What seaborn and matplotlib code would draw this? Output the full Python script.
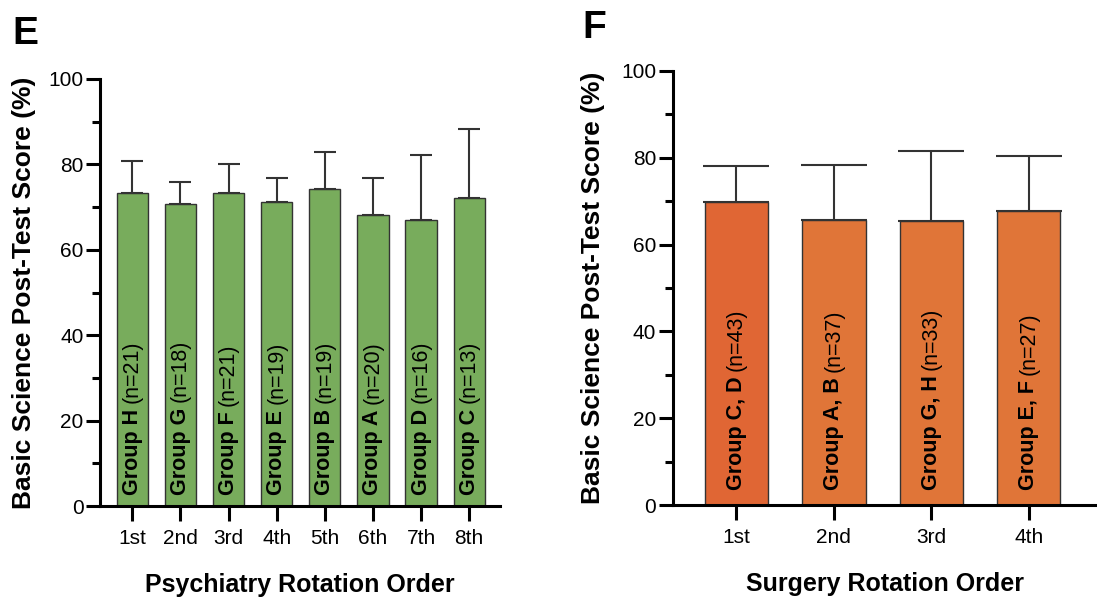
import matplotlib
matplotlib.use("Agg")
import matplotlib.pyplot as plt
import seaborn as sns
import numpy as np
import pandas as pd

# ---- data ----
psych_order = ["1st", "2nd", "3rd", "4th", "5th", "6th", "7th", "8th"]
psych_groups = ["Group H", "Group G", "Group F", "Group E", "Group B", "Group A", "Group D", "Group C"]
psych_n = ["(n=21)", "(n=18)", "(n=21)", "(n=19)", "(n=19)", "(n=20)", "(n=16)", "(n=13)"]
psych_mean = [73.4, 70.8, 73.4, 71.3, 74.3, 68.1, 66.9, 72.1]
psych_sd = [7.3, 5.0, 6.6, 5.5, 8.7, 8.7, 15.2, 16.1]

surg_order = ["1st", "2nd", "3rd", "4th"]
surg_groups = ["Group C, D", "Group A, B", "Group G, H", "Group E, F"]
surg_n = ["(n=43)", "(n=37)", "(n=33)", "(n=27)"]
surg_mean = [69.9, 65.7, 65.4, 67.8]
surg_sd = [8.2, 12.6, 16.1, 12.5]

sns.set_theme(style="ticks")
plt.rcParams["font.family"] = ["Liberation Sans", "DejaVu Sans"]
plt.rcParams["text.color"] = "black"
plt.rcParams["axes.labelcolor"] = "black"

fig = plt.figure(figsize=(10.97, 5.98), dpi=100)
ax1 = fig.add_axes([0.0912, 0.1538, 0.365, 0.7141])
ax2 = fig.add_axes([0.6135, 0.1555, 0.3865, 0.7258])

green = "#78AC5C"
orange1 = "#E06634"
orange2 = "#E07538"
edge = "#333333"


def draw(ax, order, groups, ns, means, sds, palette, capsize, text_y, xlabel, xlim, ypad):
    df = pd.DataFrame({"order": order, "mean": means})
    sns.barplot(data=df, x="order", y="mean", hue="order", palette=palette,
                legend=False, width=0.65, edgecolor=edge, linewidth=1.0, ax=ax,
                errorbar=None, saturation=1)
    xs = np.arange(len(order))
    ax.errorbar(xs, means, yerr=[np.zeros(len(sds)), sds], fmt="none",
                ecolor=edge, elinewidth=1.5, capsize=capsize, capthick=1.5, zorder=3)
    for x, g, n in zip(xs, groups, ns):
        t = ax.text(x, text_y, g, rotation=90, ha="center", va="bottom",
                    fontsize=15.5, fontweight="bold", color="black", zorder=4)
        ax.annotate(n, xy=(0.5, 1.0), xycoords=t, xytext=(0, 4),
                    textcoords="offset points", rotation=90, ha="center", va="bottom",
                    fontsize=15.5, color="black", zorder=4)
    ax.set_ylim(0, 100)
    ax.set_xlim(*xlim)
    ax.set_yticks([0, 20, 40, 60, 80, 100])
    ax.set_yticks([10, 30, 50, 70, 90], minor=True)
    ax.tick_params(axis="y", which="major", length=10, width=2.2, labelsize=15, pad=2,
                   color="black", labelcolor="black")
    ax.tick_params(axis="y", which="minor", length=5.8, width=2.2, color="black")
    ax.tick_params(axis="x", which="major", length=10.8, width=2.2, labelsize=15, pad=6,
                   color="black", labelcolor="black")
    for s in ["top", "right"]:
        ax.spines[s].set_visible(False)
    for s in ["left", "bottom"]:
        ax.spines[s].set_linewidth(2.2)
        ax.spines[s].set_color("black")
    ax.set_xlabel(xlabel, fontsize=18, fontweight="bold", labelpad=18)
    ax.set_ylabel("Basic Science Post-Test Score (%)", fontsize=19, fontweight="bold",
                  labelpad=ypad)


draw(ax1, psych_order, psych_groups, psych_n, psych_mean, psych_sd,
     [green] * len(psych_order), 8, 2.6, "Psychiatry Rotation Order", (-0.67, 7.65), 9)
draw(ax2, surg_order, surg_groups, surg_n, surg_mean, surg_sd,
     [orange1] + [orange2] * (len(surg_order) - 1), 24, 3.4, "Surgery Rotation Order",
     (-0.65, 3.7), 12)

fig.text(0.011, 0.943, "E", fontsize=28, fontweight="bold", va="center", ha="left")
fig.text(0.531, 0.954, "F", fontsize=28, fontweight="bold", va="center", ha="left")

fig.savefig("out.png", dpi=100)
